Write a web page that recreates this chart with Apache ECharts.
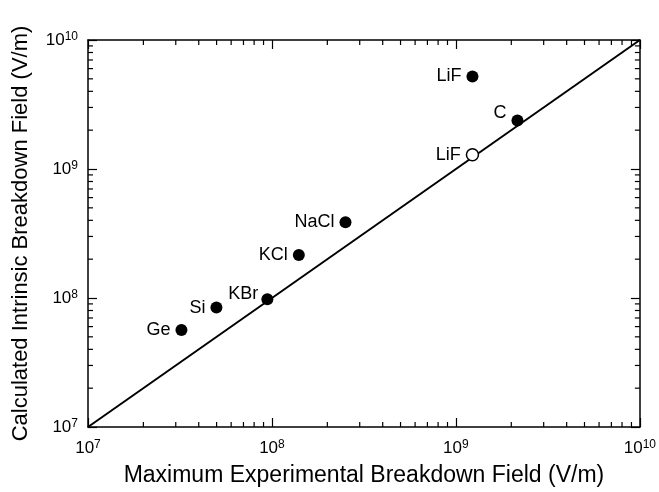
<!DOCTYPE html>
<html>
<head>
<meta charset="utf-8">
<script src="https://cdn.jsdelivr.net/npm/echarts@6/dist/echarts.min.js"></script>
<style>
  html, body { margin: 0; padding: 0; background: #fff; }
  #chart { width: 659px; height: 492px; }
</style>
</head>
<body>
<div id="chart"></div>
<script>
// materials
var names = ['Ge', 'Si', 'KBr', 'KCl', 'NaCl', 'LiF', 'C', 'LiF'];
var expField = [3.22e7, 4.99e7, 9.44e7, 1.40e8, 2.51e8, 1.23e9, 2.16e9, 1.23e9];
var calcField = [5.66e7, 8.43e7, 9.77e7, 2.15e8, 3.87e8, 5.21e9, 2.38e9, 1.29e9];
var filled = [true, true, true, true, true, true, true, false];
var lineEnds = [1e7, 1e10];
var decades = [7, 8, 9, 10];

var font = 'Liberation Sans, Arial, sans-serif';
// label nudges (style only)
var labelShift = { 2: [2, -5], 6: [0, -7] };

var chart = echarts.init(document.getElementById('chart'));

var pts = names.map(function (n, i) {
    return {
        name: n,
        value: [expField[i], calcField[i]],
        itemStyle: {
            color: filled[i] ? '#000' : '#fff',
            borderColor: '#000',
            borderWidth: filled[i] ? 0 : 1.5,
            opacity: 1
        },
        label: { offset: labelShift[i] || [0, 0] }
    };
});

function powLabel(v) {
    var e = Math.round(Math.log10(v));
    return '{n|10}{s|' + e + '}';
}
var tickRich = {
    n: { fontSize: 17, fontFamily: font, color: '#000' },
    s: { fontSize: 12, fontFamily: font, color: '#000', verticalAlign: 'top', padding: [0, 0, 7, 0] }
};

var axisCommon = {
    type: 'log',
    logBase: 10,
    min: 1e7,
    max: 1e10,
    splitLine: { show: false },
    axisLine: { lineStyle: { color: '#000', width: 1.5 } },
    axisTick: { inside: true, length: 9, lineStyle: { color: '#000', width: 1.2 } }
};

var option = {
    animation: false,
    grid: { left: 88, right: 18, top: 40, bottom: 64 },
    xAxis: [
        Object.assign({}, axisCommon, {
            position: 'bottom',
            name: 'Maximum Experimental Breakdown Field (V/m)',
            nameLocation: 'middle',
            nameGap: 37,
            nameTextStyle: { fontSize: 23, fontFamily: font, color: '#000' },
            axisLabel: {
                margin: 12, fontSize: 17, fontFamily: font, color: '#000',
                formatter: powLabel, rich: tickRich
            }
        }),
        Object.assign({}, axisCommon, { position: 'top', axisLabel: { show: false } })
    ],
    yAxis: [
        Object.assign({}, axisCommon, {
            position: 'left',
            name: 'Calculated Intrinsic Breakdown Field (V/m)',
            nameLocation: 'middle',
            nameGap: 56,
            nameTextStyle: { fontSize: 22, fontFamily: font, color: '#000' },
            axisLabel: {
                margin: 10, fontSize: 17, fontFamily: font, color: '#000',
                formatter: powLabel, rich: tickRich
            }
        }),
        Object.assign({}, axisCommon, { position: 'right', axisLabel: { show: false } })
    ],
    series: [
        {
            type: 'line',
            data: [[lineEnds[0], lineEnds[0]], [lineEnds[1], lineEnds[1]]],
            symbol: 'none',
            lineStyle: { color: '#000', width: 2 },
            silent: true,
            z: 1
        },
        {
            type: 'scatter',
            symbolSize: 12,
            data: pts,
            z: 3,
            label: {
                show: true,
                position: 'left',
                distance: 5,
                formatter: '{b}',
                fontSize: 18,
                fontFamily: font,
                color: '#000'
            }
        }
    ]
};
chart.setOption(option);

// minor ticks at 2..9 of each decade, placed through the axis scales
var minor = [];
var x0 = chart.convertToPixel({ xAxisIndex: 0 }, 1e7);
var x1 = chart.convertToPixel({ xAxisIndex: 0 }, 1e10);
var yb = chart.convertToPixel({ yAxisIndex: 0 }, 1e7);
var yt = chart.convertToPixel({ yAxisIndex: 0 }, 1e10);
var mLen = 5;
var tickStyle = { stroke: '#000', lineWidth: 1.2 };
decades.slice(0, -1).forEach(function (d) {
    for (var m = 2; m <= 9; m++) {
        var v = m * Math.pow(10, d);
        var px = chart.convertToPixel({ xAxisIndex: 0 }, v);
        var py = chart.convertToPixel({ yAxisIndex: 0 }, v);
        minor.push({ type: 'line', shape: { x1: px, y1: yb, x2: px, y2: yb - mLen }, style: tickStyle });
        minor.push({ type: 'line', shape: { x1: px, y1: yt, x2: px, y2: yt + mLen }, style: tickStyle });
        minor.push({ type: 'line', shape: { x1: x0, y1: py, x2: x0 + mLen, y2: py }, style: tickStyle });
        minor.push({ type: 'line', shape: { x1: x1, y1: py, x2: x1 - mLen, y2: py }, style: tickStyle });
    }
});
chart.setOption({ graphic: minor });
</script>
</body>
</html>
